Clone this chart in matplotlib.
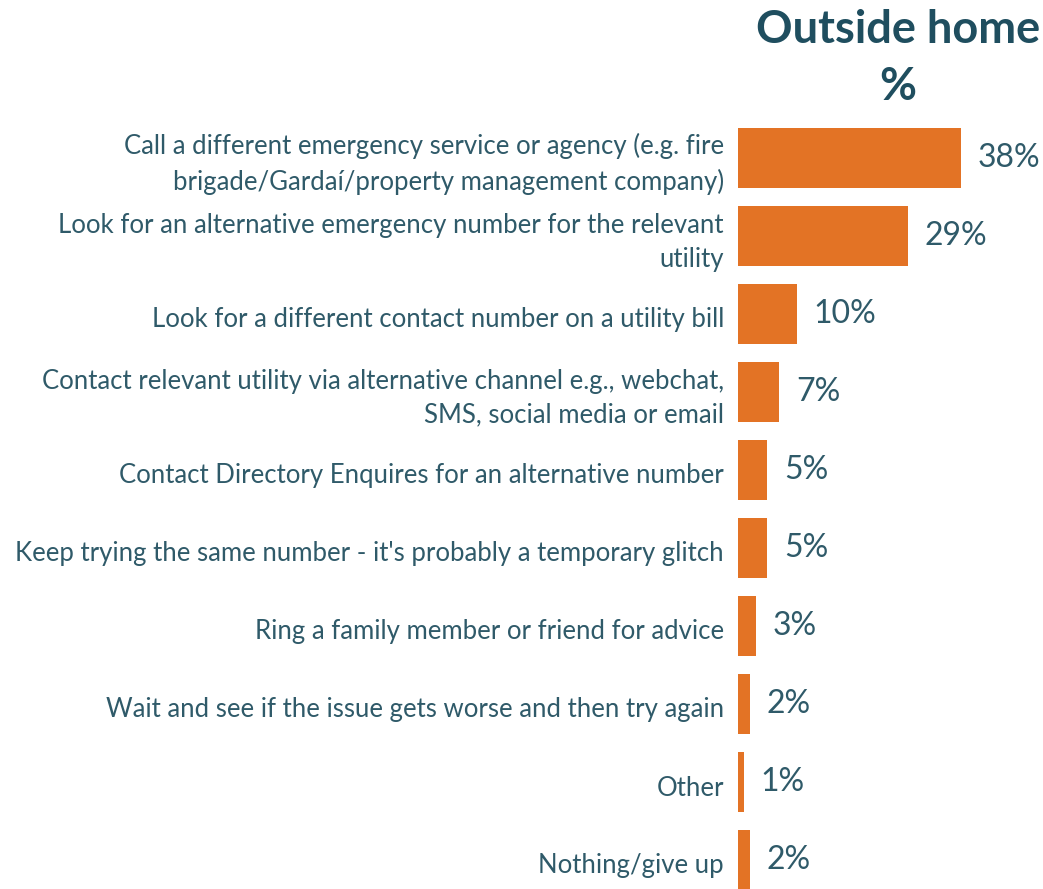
import numpy as np
import matplotlib.pyplot as plt
from matplotlib import transforms

# answers and share of respondents (%)
labels = [
    "Call a different emergency service or agency (e.g. fire\nbrigade/Gardaí/property management company)",
    "Look for an alternative emergency number for the relevant\nutility",
    "Look for a different contact number on a utility bill",
    "Contact relevant utility via alternative channel e.g., webchat,\nSMS, social media or email",
    "Contact Directory Enquires for an alternative number",
    "Keep trying the same number - it's probably a temporary glitch",
    "Ring a family member or friend for advice",
    "Wait and see if the issue gets worse and then try again",
    "Other",
    "Nothing/give up",
]
values = [38, 29, 10, 7, 5, 5, 3, 2, 1, 2]

bar_color = "#E37325"
text_color = "#2F5A69"
title_color = "#1F4E5F"

plt.rcParams['font.family'] = ['Lato', 'DejaVu Sans']

fig = plt.figure(figsize=(10.43, 8.89), dpi=100)
ax = fig.add_axes([738 / 1043, 0, 305 / 1043, 770 / 889])

y = np.arange(len(values))
ax.barh(y, values, height=0.77, color=bar_color)

ax.set_xlim(0, 305 / 5.87)
ax.set_ylim(9 + 29 / 78, -0.5)
ax.set_xticks([])
ax.set_yticks([])
for s in ax.spines.values():
    s.set_visible(False)

# category labels, right aligned left of the bars
lab_tr = transforms.blended_transform_factory(ax.transAxes, ax.transData) + \
    transforms.ScaledTranslation(-14 / 100, -6 / 100, fig.dpi_scale_trans)
for yi, lab in zip(y, labels):
    ax.text(0, yi, lab, transform=lab_tr, ha='right', va='center',
            multialignment='right', fontsize=18.5,
            color=text_color, linespacing=1.45)

for yi, v in zip(y, values):
    ax.annotate(f"{v}%", (v, yi), xytext=(12, 0), textcoords='offset points',
                va='center', ha='left', fontsize=23, color=text_color)

fig.text(898 / 1043, 1 - 30 / 889, "Outside home", ha='center', va='center',
         fontsize=32.5, fontweight='bold', color=title_color)
fig.text(898 / 1043, 1 - 87 / 889, "%", ha='center', va='center',
         fontsize=32.5, fontweight='bold', color=title_color)

fig.savefig("out.png", dpi=100)
